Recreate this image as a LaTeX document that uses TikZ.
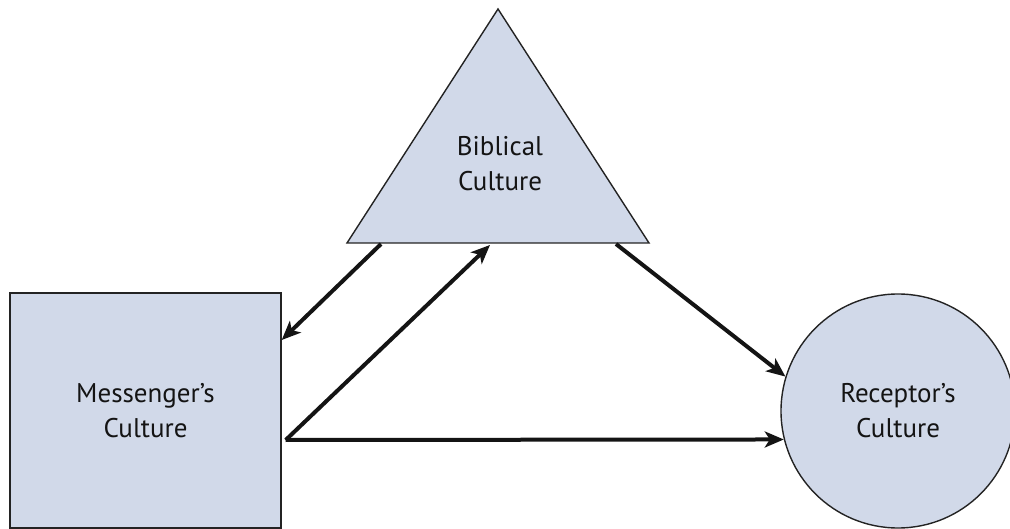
\documentclass[tikz,border=0pt]{standalone}
\usepackage{fontspec}
\setmainfont{PT Sans}
\usetikzlibrary{arrows.meta,calc}
\definecolor{boxfill}{RGB}{209,217,233}
\definecolor{edge}{RGB}{35,35,35}
\definecolor{ink}{RGB}{20,20,20}
\begin{document}
\begin{tikzpicture}[x=1pt,y=-1pt,
  label text/.style={align=center,font=\fontsize{27}{35}\selectfont,text=ink},
  culture/.style={label text,draw=edge,line width=1.4pt,fill=boxfill,inner sep=0pt},
  flow/.style={draw=ink,line width=4pt,
    -{Stealth[length=19pt,width=16pt,inset=5pt]}}]
\useasboundingbox (0,0) rectangle (1010,529);

% Biblical culture: triangle
\coordinate (apex) at (498,9);
\coordinate (bl) at (347,243);
\coordinate (br) at (649,243);
\filldraw[draw=edge,line width=1.4pt,fill=boxfill,line join=miter] (apex) -- (bl) -- (br) -- cycle;
\node[label text] (bib) at (500,164) {Biblical\\Culture};

% Messenger's culture: square
\node[culture,rectangle,minimum width=271pt,minimum height=235pt] (msg) at (145.5,410.5) {Messenger's\\Culture};

% Receptor's culture: circle
\node[culture,circle,minimum size=234pt] (rc) at (898,411) {Receptor's\\Culture};

% arrow end points on the shapes
\coordinate (b1) at (381,244);
\coordinate (b2) at (490,245);
\coordinate (b3) at (616,244);
\coordinate (m1) at (msg.east |- 0,340);
\coordinate (m2) at ($(msg.east |- 0,440)+(4,0)$);

\draw[flow] (b1) -- (m1);
\draw[flow] (m2) -- (b2);
\draw[flow] (b3) -- (rc.163);
\draw[flow] (m2) -- (rc.194.5);
\end{tikzpicture}
\end{document}
